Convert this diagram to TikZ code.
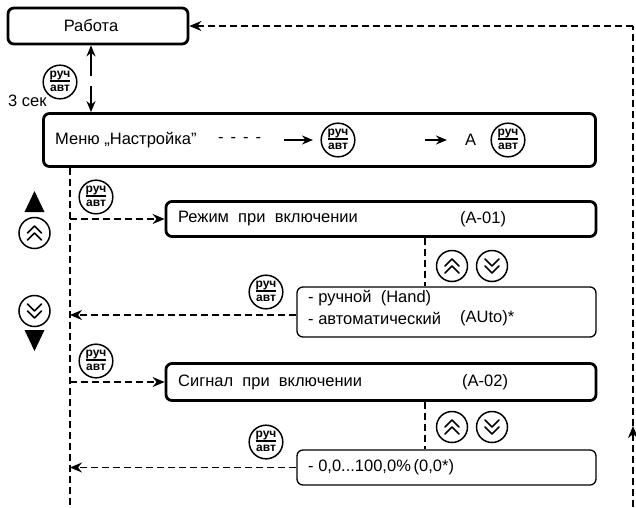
\documentclass[tikz,border=0pt]{standalone}
\usepackage{fontspec}
\setmainfont{Liberation Sans}
\usetikzlibrary{arrows.meta,calc}
\newcommand{\rafrac}{\begin{tabular}{@{}c@{}}\rule[-2.5pt]{0pt}{0pt}руч\\[-0.6pt]\hline\rule{0pt}{10pt}авт\end{tabular}}
\begin{document}
\begin{tikzpicture}[x=1pt,y=-1pt,
  every node/.style={font=\fontsize{16.5}{19}\selectfont},
  mainbox/.style={draw,rounded corners=6pt,line width=2.8pt,inner sep=0pt},
  optbox/.style={draw,rounded corners=6pt,line width=1.3pt,inner sep=0pt},
  txt/.style={anchor=west,inner sep=0pt},
  raicon/.style={circle,draw,line width=1.5pt,minimum size=32pt,inner sep=0pt,
    font=\fontsize{12}{12}\selectfont\bfseries,
    execute at begin node={\setlength{\tabcolsep}{0pt}\setlength{\arrayrulewidth}{1.4pt}}},
  chicon/.style={circle,draw,line width=1.5pt,minimum size=31pt,inner sep=0pt},
  dline/.style={line width=1.4pt,dash pattern=on 7pt off 4pt},
  darr/.style={dline,-{Stealth[length=12pt,width=10pt]}},
  sarr/.style={line width=1.6pt,-{Stealth[length=11pt,width=9pt]}},
  updbl/.pic={\draw[line width=1.6pt,line cap=round,line join=round] (-7,0) -- (0,-7) -- (7,0) (-7,7) -- (0,0) -- (7,7);},
  dndbl/.pic={\draw[line width=1.6pt,line cap=round,line join=round] (-7,0) -- (0,7) -- (7,0) (-7,-7) -- (0,0) -- (7,-7);}
]
\useasboundingbox (0,0) rectangle (636,507);

% main boxes
\node[mainbox,minimum width=180pt,minimum height=36pt] (work) at (98,26) {};
\node[mainbox,minimum width=552pt,minimum height=53pt] (menu) at (319.5,140) {};
\node[mainbox,minimum width=430pt,minimum height=35pt] (b2) at (381,219) {};
\node[optbox,minimum width=299pt,minimum height=50pt] (b3) at (446.5,312) {};
\node[mainbox,minimum width=430pt,minimum height=37pt] (b4) at (381,382) {};
\node[optbox,minimum width=299pt,minimum height=35pt] (b5) at (446.5,467.5) {};

% texts
\node[inner sep=0pt] (twork) at (91,26) {Работа};
\node[txt] (tmenu) at (55,140) {Меню „Настройка”};
\node[txt] (tdash) at (218,140) {-\hspace{7pt}-\hspace{7pt}-\hspace{7pt}-};
\node[txt] (tA) at (465,140) {A};
\node[txt] (t2) at (178,219) {Режим\ \ при\ \ включении};
\node[txt] (t2c) at (460,219) {(A-01)};
\node[txt] (t3a) at (308,298) {- ручной\ \ (Hand)};
\node[txt] (t3b) at (308,318) {- автоматический};
\node[txt] (t3c) at (460,318) {(AUto)*};
\node[txt] (t4) at (178,382) {Сигнал\ \ при\ \ включении};
\node[txt] (t4c) at (462,382) {(A-02)};
\node[txt] (t5) at (308,467.5) {- 0,0...100,0\%\,(0,0*)};
\node[txt] (tsec) at (8,101) {3 сек};

% ruch/avt icons
\node[raicon] (ra0) at (60,82) {\rafrac};
\node[raicon] (ra1) at (338,140) {\rafrac};
\node[raicon] (ra2) at (508,140) {\rafrac};
\node[raicon] (ra3) at (96,197) {\rafrac};
\node[raicon] (ra4) at (266,292) {\rafrac};
\node[raicon] (ra5) at (96,361) {\rafrac};
\node[raicon] (ra6) at (266,442) {\rafrac};

% up/down icons
\node[chicon] (upL) at (34.5,233) {};
\node[chicon] (dnL) at (34.5,311) {};
\node[chicon] (up1) at (452,266) {};
\node[chicon] (dn1) at (492,266) {};
\node[chicon] (up2) at (452,427) {};
\node[chicon] (dn2) at (492,427) {};
\pic at (upL) {updbl};
\pic at (up1) {updbl};
\pic at (up2) {updbl};
\pic at (dnL) {dndbl};
\pic at (dn1) {dndbl};
\pic at (dn2) {dndbl};

% left triangles
\fill (34.5,191) -- (44.5,212) -- (24.5,212) -- cycle;
\fill (34.5,351) -- (44.5,330) -- (24.5,330) -- cycle;

% coordinates
\coordinate (va) at (91,76);
\coordinate (vb) at (91,86);
\coordinate (lx) at (70,507);
\coordinate (rx) at (633,507);
\coordinate (rmid) at (633,426);
\coordinate (rtop) at (633,26);
\coordinate (m1a) at (284,140);
\coordinate (m1b) at (313,140);
\coordinate (m2a) at (425,140);
\coordinate (m2b) at (447,140);
\coordinate (c1) at (425,0);

% solid arrows
\draw[sarr] (va) -- (work.south -| va);
\draw[sarr] (vb) -- (menu.north -| vb);
\draw[sarr] (m1a) -- (m1b);
\draw[sarr] (m2a) -- (m2b);

% dashed lines
\draw[dline] (menu.south -| lx) -- (lx);
\draw[darr] (rx) -- (rmid);
\draw[dline] (rmid) -- (rtop);
\draw[darr] (rtop) -- (work.east);
\draw[darr] (b2.west -| lx) -- (b2.west);
\draw[darr] ($(b3.west)+(0,3)$) -- ($(b3.west -| lx)+(0,3)$);
\draw[darr] (b4.west -| lx) -- (b4.west);
\draw[darr] (b5.west) -- (b5.west -| lx);
\draw[dline] (b2.south -| c1) -- (b3.north -| c1);
\draw[dline] (b4.south -| c1) -- (b5.north -| c1);
\end{tikzpicture}
\end{document}
